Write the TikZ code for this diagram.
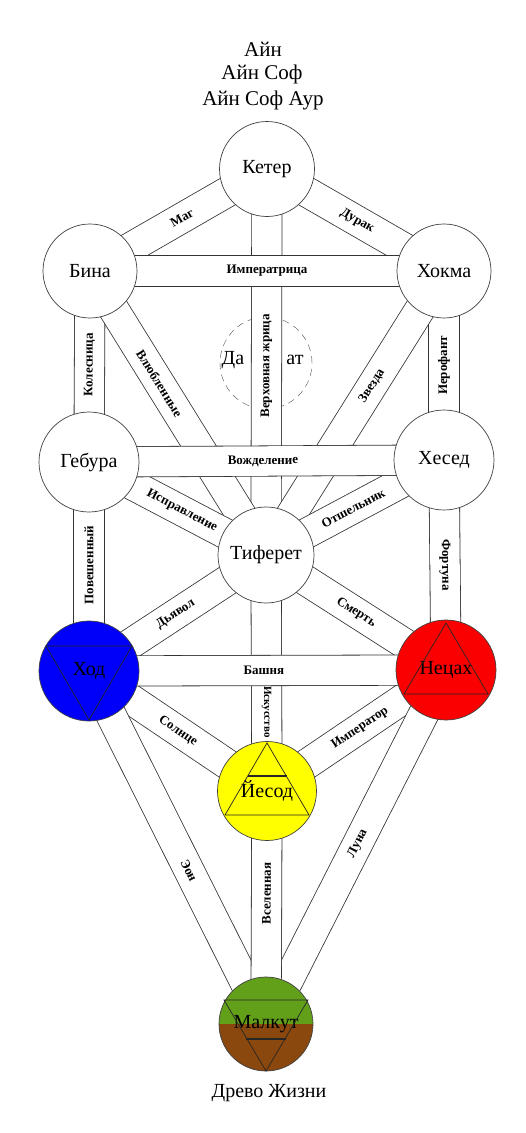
\documentclass[tikz,border=0pt]{standalone}
\usepackage{fontspec}
\setmainfont{Liberation Serif}
\usetikzlibrary{calc, backgrounds}
\definecolor{hodBlue}{RGB}{0, 0, 250}
\definecolor{netzachRed}{RGB}{250, 0, 0}
\definecolor{yesodYellow}{RGB}{255, 255, 0}
\definecolor{malkutGreen}{RGB}{98, 160, 26}
\definecolor{malkutBrown}{RGB}{138, 72, 14}

\begin{document}
\begin{tikzpicture}[
    x=1pt, y=-1pt,
    every node/.style={font=\fontsize{20}{22}\selectfont},
    title/.style={font=\fontsize{21}{23}\selectfont},
    sephira/.style={circle, draw=black!75, line width=0.7pt, fill=#1, inner sep=0pt},
    sephira/.default={white},
    band/.style={draw=black!80, line width=0.8pt, double=white, double distance=29.5pt},
    card/.style={font=\bfseries\fontsize{13}{13}\selectfont, sloped, inner sep=1pt},
    sym/.style={draw=black!85, line width=0.7pt}
]
\useasboundingbox (0,0) rectangle (525,1133);

% Title
\node[title] (ain) at (263,49) {Айн};
\node[title] (ainsof) at (262,74) {Айн Соф};
\node[title] (ainsofaur) at (263,100) {Айн Соф Аур};

% Sephiroth
\node[sephira, minimum size=95pt] (keter) at (267,169) {Кетер};
\node[sephira, minimum size=94pt] (bina) at (90,271) {Бина};
\node[sephira, minimum size=94pt] (hokhma) at (444,271) {Хокма};
\node[sephira, minimum size=100pt] (geburah) at (89,462) {Гебура};
\node[sephira, minimum size=100pt] (hesed) at (444,460) {Хесед};
\node[sephira, minimum size=96pt] (tiferet) at (266,555) {Тиферет};
\node[sephira=hodBlue, minimum size=100pt] (hod) at (89,671) {Ход};
\node[sephira=netzachRed, minimum size=100pt] (netzach) at (446,670) {Нецах};
\node[sephira=yesodYellow, minimum size=99pt] (yesod) at (267,791) {Йесод};
\node[sephira, minimum size=94pt, path picture={
    \fill[malkutGreen] (path picture bounding box.north west) rectangle (path picture bounding box.east);
    \fill[malkutBrown] (path picture bounding box.west) rectangle (path picture bounding box.south east);
  }] (malkut) at (266,1024) {Малкут};

% Element signs
\draw[sym] ($(hod)+(-43,-25)$) -- ($(hod)+(43,-25)$) -- ($(hod)+(0,49)$) -- cycle;
\draw[sym] ($(netzach)+(0,-47)$) -- ($(netzach)+(42,24)$) -- ($(netzach)+(-42,24)$) -- cycle;
\draw[sym] ($(yesod)+(0,-48)$) -- ($(yesod)+(42,24)$) -- ($(yesod)+(-42,24)$) -- cycle;
\draw[sym, line width=1.5pt] ($(yesod)+(-19.5,-15)$) -- ($(yesod)+(19.5,-15)$);
\draw[sym] ($(malkut)+(-42,-24)$) -- ($(malkut)+(42,-24)$) -- ($(malkut)+(0,47)$) -- cycle;
\draw[sym, line width=1.5pt] ($(malkut)+(-20,15)$) -- ($(malkut)+(20,15)$);

% Daat
\node (daatL) at (233,360) {Да};
\node (daatR) at (295,360) {ат};

\node (tree) at (269,1093) {Древо Жизни};

% Paths
\begin{scope}[on background layer]
\node[circle, draw=black!70, dashed, dash pattern=on 7pt off 5pt, minimum size=92pt] (daat) at (266,363) {};

\draw[band] (tiferet.center) -- (keter.center) node[card, pos=0.49] {Верховная жрица};
\draw[band] (bina.center) -- (keter.center) node[card, pos=0.52] {Маг};
\draw[band] (keter.center) -- (hokhma.center) node[card, pos=0.51] {Дурак};
\draw[band] (geburah.center) -- (bina.center) node[card, pos=0.51] {Колесница};
\draw[band] (hesed.center) -- (hokhma.center) node[card, pos=0.5] {Иерофант};
\draw[band] (bina.center) -- (tiferet.center) node[card, pos=0.395] {Влюбленные};
\draw[band] (tiferet.center) -- (hokhma.center) node[card, pos=0.595] {Звезда};
\draw[band] (geburah.center) -- (tiferet.center) node[card, pos=0.525] {Исправление};
\draw[band] (tiferet.center) -- (hesed.center) node[card, pos=0.49] {Отшельник};
\draw[band] (hod.center) -- (geburah.center) node[card, pos=0.507] {Повешенный};
\draw[band] (netzach.center) -- (hesed.center) node[card, pos=0.5] {Фортуна};
\draw[band] (hod.center) -- (tiferet.center) node[card, pos=0.49] {Дьявол};
\draw[band] (tiferet.center) -- (netzach.center) node[card, pos=0.5] {Смерть};
\draw[band] (yesod.center) -- (tiferet.center) node[card, pos=0.335, font=\bfseries\fontsize{11}{11}\selectfont] {Искусство};
\draw[band] (hod.center) -- (yesod.center) node[card, pos=0.5] {Солнце};
\draw[band] (yesod.center) -- (netzach.center) node[card, pos=0.52] {Император};
\draw[band] (hod.center) -- (malkut.center) node[card, pos=0.565] {Эон};
\draw[band] (malkut.center) -- (netzach.center) node[card, pos=0.51] {Луна};
\draw[band] (malkut.center) -- (yesod.center) node[card, pos=0.56] {Вселенная};

% Horizontal paths on top
\draw[band] (bina.center) -- (hokhma.center) node[card, pos=0.5] {Императрица};
\draw[band] (geburah.center) -- (hesed.center) node[card, pos=0.49] {Вожделение};
\draw[band] (hod.center) -- (netzach.center) node[card, pos=0.49] {Башня};
\end{scope}

\end{tikzpicture}
\end{document}
